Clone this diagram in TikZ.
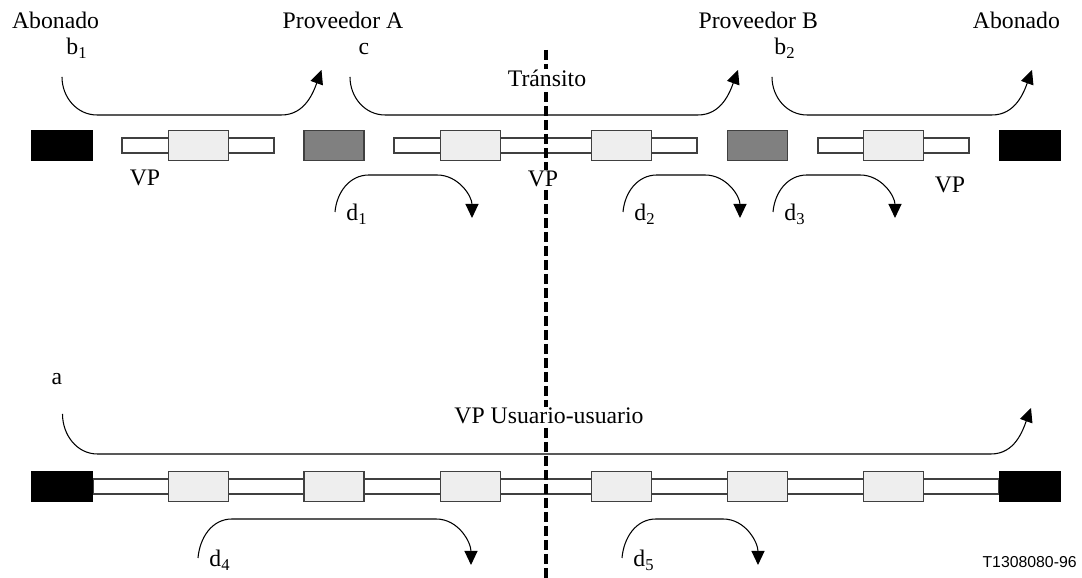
\documentclass[tikz,border=0pt]{standalone}
\usepackage{fontspec}
\setmainfont{Liberation Serif}
\newfontfamily\tagfont{Liberation Sans}
\usepackage{tikz}
\usetikzlibrary{arrows.meta, backgrounds, calc}
\definecolor{relayfill}{RGB}{238, 238, 238}
\definecolor{provfill}{RGB}{128, 128, 128}
\definecolor{edge}{RGB}{64, 64, 64}

\tikzset{
  txt/.style={font=\fontsize{13.5}{16}\selectfont, inner sep=1pt},
  term/.style={fill=black, minimum width=1.24cm, minimum height=0.62cm, inner sep=0},
  prov/.style={fill=provfill, draw=edge, line width=0.6pt, minimum width=1.2cm, minimum height=0.6cm, inner sep=0},
  relay/.style={fill=relayfill, draw=edge, line width=0.6pt, minimum width=1.2cm, minimum height=0.6cm, inner sep=0},
  bar/.style={fill=white, draw=edge, line width=0.6pt},
  flow/.style={line width=0.6pt, -{Triangle[length=0.28cm, width=0.26cm]}},
  provline/.style={line width=2pt, dash pattern=on 0.2cm off 0.08cm}
}

\begin{document}
\begin{tikzpicture}
  \useasboundingbox (0, 0) rectangle (21.64, 11.56);

  % upper row: three separate VP segments
  \node[term] (abl) at (1.24, 8.65) {};
  \node[relay] (u1) at (3.97, 8.65) {};
  \node[prov] (pa) at (6.68, 8.65) {};
  \node[relay] (u2) at (9.41, 8.65) {};
  \node[relay] (u3) at (12.43, 8.65) {};
  \node[prov] (pb) at (15.15, 8.65) {};
  \node[relay] (u4) at (17.87, 8.65) {};
  \node[term] (abr) at (20.6, 8.65) {};
  \begin{scope}[on background layer]
    \draw[bar] (2.44, 8.5) rectangle (5.48, 8.8);
    \draw[bar] (7.88, 8.5) rectangle (13.94, 8.8);
    \draw[bar] (16.36, 8.5) rectangle (19.38, 8.8);
  \end{scope}

  % lower row: one user-to-user VP
  \node[term] (tl) at (1.24, 1.83) {};
  \node[term] (tr) at (20.6, 1.83) {};
  \foreach [count=\n] \x in {3.97, 6.68, 9.41, 12.43, 15.15, 17.87} {
    \node[relay] (l\n) at (\x, 1.83) {};
  }
  \begin{scope}[on background layer]
    \draw[bar] ($(tl.east) + (0, -0.15)$) rectangle ($(tr.west) + (0, 0.15)$);
  \end{scope}

  % arrows over the row (b1, c, b2, a)
  \foreach \n/\xs/\xt/\ys/\yh/\yt in {b1/1.24/6.43/10.02/9.26/10.16, c/7.0/14.76/10.02/9.26/10.16,
      b2/15.44/20.64/10.02/9.26/10.16, a/1.25/20.62/3.28/2.48/3.4} {
    \pgfmathsetmacro{\xh}{\xt - 0.8}
    \coordinate (\n s) at (\xs, \ys);
    \coordinate (\n t) at (\xt, \yt);
    \draw[flow] (\n s) to[out=-90, in=180] ++(0.7, {\yh - \ys}) -- (\xh, \yh) to[out=0, in=-110] (\n t);
  }

  % arrows under the row (d1 ... d5)
  \foreach \n/\xs/\xt/\ys/\yh/\yt in {1/6.7/9.44/7.32/8.06/7.2, 2/12.46/14.8/7.32/8.06/7.2,
      3/15.46/17.9/7.32/8.06/7.2, 4/3.96/9.42/0.4/1.18/0.26, 5/12.44/15.16/0.4/1.18/0.26} {
    \pgfmathsetmacro{\xh}{\xt - 0.7}
    \coordinate (d\n s) at (\xs, \ys);
    \coordinate (d\n t) at (\xt, \yt);
    \draw[flow] (d\n s) to[out=85, in=180] ++(0.68, {\yh - \ys}) -- (\xh, \yh) to[out=0, in=90] (d\n t);
    \node[txt, anchor=base] (d\n) at ($(d\n s) + (0.44, -0.17)$) {d\textsubscript{\n}};
  }

  % provider border
  \draw[provline] (10.92, 10.56) -- (10.92, 0);

  \node[txt, anchor=base west] (ab1) at (0.2, 10.98) {Abonado};
  \node[txt, anchor=base] (pva) at (6.86, 10.98) {Proveedor A};
  \node[txt, anchor=base east] (pvb) at (16.4, 10.98) {Proveedor B};
  \node[txt, anchor=base east] (ab2) at (21.24, 10.98) {Abonado};
  \node[txt, anchor=base] (b1) at (1.54, 10.46) {b\textsubscript{1}};
  \node[txt, anchor=base] (c) at (7.28, 10.46) {c};
  \node[txt, anchor=base] (b2) at (15.7, 10.46) {b\textsubscript{2}};
  \node[txt, anchor=base, fill=white] (tran) at (10.94, 9.82) {Tránsito};
  \node[txt, anchor=base] (vp1) at (2.9, 7.84) {VP};
  \node[txt, anchor=base, fill=white] (vp2) at (10.86, 7.82) {VP};
  \node[txt, anchor=base] (vp3) at (19.0, 7.7) {VP};
  \node[txt, anchor=base] (a) at (1.14, 3.86) {a};
  \node[txt, anchor=base, fill=white] (vpuu) at (10.98, 3.08) {VP Usuario-usuario};
  \node[anchor=base east, inner sep=0, font=\tagfont\fontsize{9}{11}\selectfont] (fig) at (21.54, 0.2) {T1308080-96};
\end{tikzpicture}
\end{document}
